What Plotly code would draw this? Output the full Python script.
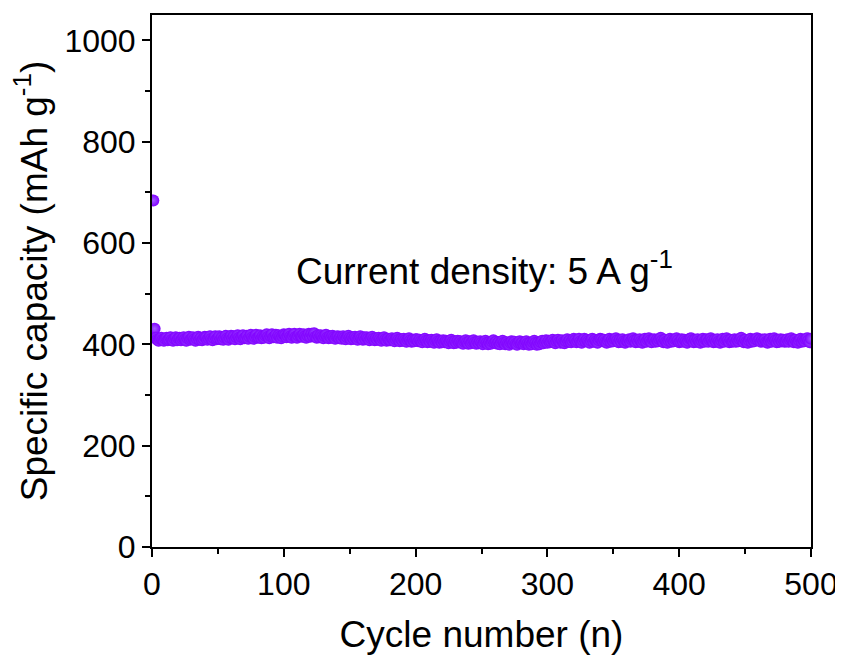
import plotly.graph_objects as go

capacity = [
    684, 431, 413, 409, 407, 411, 413, 409, 407, 411, 413, 408, 410, 414, 409, 407, 411, 414, 408, 412,
    413, 408, 411, 414, 410, 407, 412, 415, 409, 411, 414, 410, 407, 411, 415, 409, 413, 408, 411, 415,
    414, 409, 412, 416, 411, 408, 412, 416, 410, 412, 416, 410, 414, 409, 413, 417, 412, 409, 413, 417,
    412, 416, 410, 414, 418, 413, 410, 414, 418, 412, 413, 417, 411, 415, 419, 414, 411, 415, 419, 413,
    414, 418, 412, 416, 413, 417, 420, 415, 412, 416, 420, 414, 415, 419, 413, 418, 415, 412, 416, 420,
    418, 414, 417, 421, 416, 413, 417, 421, 415, 413, 417, 421, 416, 415, 420, 416, 413, 417, 421, 415,
    421, 416, 422, 415, 413, 418, 414, 418, 415, 412, 416, 419, 414, 412, 416, 413, 417, 414, 411, 415,
    416, 412, 415, 411, 416, 413, 410, 414, 417, 413, 410, 414, 411, 415, 412, 409, 413, 416, 412, 409,
    414, 410, 414, 411, 408, 412, 415, 411, 408, 412, 409, 413, 410, 407, 411, 414, 410, 407, 411, 408,
    408, 412, 409, 406, 410, 413, 409, 406, 410, 407, 411, 408, 405, 409, 412, 408, 405, 409, 406, 410,
    410, 406, 409, 406, 404, 408, 411, 407, 404, 408, 405, 409, 406, 403, 407, 410, 406, 403, 407, 404,
    408, 404, 407, 405, 402, 406, 409, 405, 402, 406, 403, 407, 404, 406, 403, 401, 405, 408, 404, 401,
    406, 402, 405, 408, 404, 401, 405, 402, 406, 403, 400, 404, 407, 403, 400, 404, 401, 405, 408, 403,
    405, 401, 404, 400, 404, 407, 403, 400, 404, 401, 399, 403, 406, 402, 405, 401, 399, 403, 406, 402,
    404, 400, 403, 406, 402, 399, 403, 400, 404, 407, 403, 399, 403, 400, 404, 407, 402, 405, 408, 403,
    407, 404, 406, 409, 405, 402, 406, 409, 405, 403, 408, 404, 402, 406, 410, 405, 408, 404, 407, 411,
    408, 404, 407, 411, 406, 403, 407, 411, 406, 409, 406, 403, 407, 411, 405, 409, 406, 403, 408, 411,
    410, 406, 409, 405, 403, 407, 411, 405, 409, 406, 410, 412, 408, 404, 409, 405, 410, 406, 403, 407,
    406, 410, 405, 409, 412, 408, 404, 409, 405, 410, 406, 403, 407, 411, 405, 409, 412, 408, 404, 409,
    410, 405, 409, 406, 410, 413, 408, 404, 409, 405, 403, 407, 411, 405, 409, 406, 410, 412, 408, 404,
    406, 410, 405, 409, 406, 403, 407, 411, 412, 408, 404, 409, 405, 410, 406, 403, 407, 411, 405, 409,
    410, 405, 409, 412, 408, 404, 409, 405, 410, 406, 403, 407, 411, 405, 409, 412, 408, 404, 409, 405,
    406, 410, 405, 409, 406, 410, 413, 408, 404, 409, 405, 403, 407, 411, 405, 409, 406, 410, 412, 408,
    410, 405, 409, 406, 410, 405, 403, 407, 411, 405, 409, 412, 408, 404, 409, 405, 410, 406, 409, 405,
    406, 410, 405, 409, 412, 408, 404, 409, 405, 403, 407, 411, 405, 409, 406, 410, 412, 408, 404, 411,
]
cycles = list(range(1, len(capacity) + 1))

annotation_text = "Current density: 5 A g<sup>-1</sup>"
x_title = "Cycle number (n)"
y_title = "Specific capacity (mAh g<sup>-1</sup>)"

FONT = "Liberation Sans, Arial, sans-serif"

fig = go.Figure()
fig.add_trace(go.Scatter(
    x=cycles, y=capacity, mode="markers",
    marker=dict(size=12, color="#8000FF",
                gradient=dict(type="radial", color="#a35cff"),
                line=dict(width=0)),
    showlegend=False,
))

axis_common = dict(
    showline=True, linecolor="black", linewidth=2, mirror=True,
    ticks="outside", ticklen=8, tickwidth=2, tickcolor="black",
    showgrid=False, zeroline=False, automargin=False,
    tickfont=dict(family=FONT, size=32, color="black"),
)

fig.update_xaxes(
    range=[0, 500], dtick=100, tick0=0,
    minor=dict(ticks="outside", ticklen=5, tickwidth=2, tickcolor="black", dtick=50),
    title=dict(text=x_title, font=dict(family=FONT, size=37, color="black"), standoff=20),
    **axis_common,
)
fig.update_yaxes(
    range=[0, 1050], dtick=200, tick0=0,
    minor=dict(ticks="outside", ticklen=5, tickwidth=2, tickcolor="black", dtick=100),
    title=dict(text=y_title, font=dict(family=FONT, size=37, color="black"), standoff=10),
    **axis_common,
)

fig.add_annotation(
    x=108, y=550, xref="x", yref="y", text=annotation_text, showarrow=False,
    xanchor="left", yanchor="middle",
    font=dict(family=FONT, size=37, color="black"),
)

# The page adds an 8px body margin, so the figure is 8px smaller and shifted.
fig.update_layout(
    width=835, height=650,
    margin=dict(l=144, r=32, t=7, b=111),
    plot_bgcolor="white", paper_bgcolor="white",
)

fig.write_html("out.html")
